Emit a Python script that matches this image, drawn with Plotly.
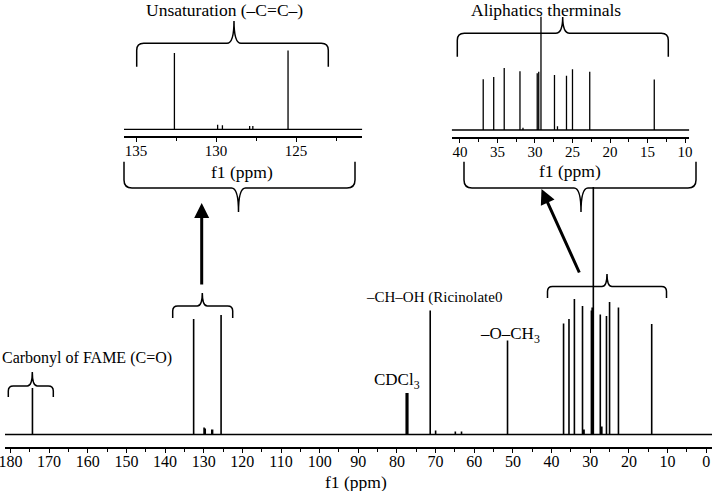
import plotly.graph_objects as go

# ---------------- data ----------------
peak_ppm = [174.3, 132.6, 129.9, 129.6, 127.9, 127.7, 125.5,
            77.6, 77.4, 77.2, 71.4, 70.0, 64.9, 63.3, 51.4,
            36.9, 35.5, 34.1, 32.0, 31.6, 29.7, 29.5, 29.2,
            27.4, 27.0, 25.8, 25.0, 22.7, 14.1]
peak_int = [46.5, 115.5, 7, 6, 5, 5, 119.5,
            41.5, 41.5, 41.5, 124, 4, 3, 3, 94,
            111, 115.5, 135.5, 128.5, 5, 124, 127, 247.5,
            120, 8, 118.5, 132.5, 127, 110.5]

main_ticks = list(range(0, 181, 10))
inset1_ticks = [135, 130, 125]
inset2_ticks = [40, 35, 30, 25, 20, 15, 10]

labels_text = {
    "unsat": "Unsaturation (–C=C–)",
    "aliph": "Aliphatics therminals",
    "carbonyl": "Carbonyl of FAME (C=O)",
    "choh": "–CH–OH (Ricinolate0",
    "cdcl3": "CDCl<sub>3</sub>",
    "och3": "–O–CH<sub>3</sub>",
}
axis_title = "f1 (ppm)"

# ---------------- layout geometry ----------------
W, H = 716, 491
ML, MR, MT, MB = 5, 4, 0, 44
PW, PH = W - ML - MR, H - MT - MB
FONT = "Liberation Serif, Times New Roman, serif"


def px(x):
    return (x - ML) / PW


def py(y):
    return (H - MB - y) / PH


def spectrum(lo, hi):
    pairs = sorted([(p, h) for p, h in zip(peak_ppm, peak_int) if lo < p < hi],
                   reverse=True)
    xs, ys = [hi], [0]
    for p, h in pairs:
        xs += [p, p, p]
        ys += [0, h, 0]
    xs.append(lo)
    ys.append(0)
    return xs, ys


fig = go.Figure()

mx, my = spectrum(-1.5, 181.4)
fig.add_trace(go.Scatter(x=mx, y=my, mode="lines", line=dict(color="black", width=1.6),
                         xaxis="x", yaxis="y", hoverinfo="skip"))
i1_range = [135.75, 120.86]
ax1, ay1 = spectrum(i1_range[1], i1_range[0])
fig.add_trace(go.Scatter(x=ax1, y=ay1, mode="lines", line=dict(color="black", width=1.3),
                         xaxis="x2", yaxis="y2", hoverinfo="skip"))
i2_range = [41.1, 9.43]
ax2, ay2 = spectrum(i2_range[1], i2_range[0])
fig.add_trace(go.Scatter(x=ax2, y=ay2, mode="lines", line=dict(color="black", width=1.3),
                         xaxis="x3", yaxis="y3", hoverinfo="skip"))


def inset_y(bottom_px, top_px, base_px, scale):
    dom = [py(bottom_px), py(top_px)]
    lo = -(bottom_px - base_px) / scale
    hi = lo + (bottom_px - top_px) / scale
    return dom, [lo, hi]


d2, r2 = inset_y(135.7, 20, 129.3, 0.66)
d3, r3 = inset_y(136.7, 14, 130.0, 0.458)

tickfont_main = dict(family=FONT, size=16, color="black")
tickfont_inset = dict(family=FONT, size=15, color="black")

common_x = dict(showline=True, linecolor="black", showgrid=False, zeroline=False,
                ticks="outside", tickcolor="black", ticklabeloverflow="allow")

fig.update_layout(
    width=W, height=H, margin=dict(l=ML, r=MR, t=MT, b=MB, autoexpand=False),
    paper_bgcolor="white", plot_bgcolor="rgba(0,0,0,0)", showlegend=False,
    xaxis=dict(**common_x, range=[181.4, -1.5], domain=[0, 1], anchor="y",
               linewidth=2, ticklen=4, tickwidth=1.2, automargin=False,
               ticklabelstandoff=-5,
               tickvals=main_ticks, ticktext=[str(t) for t in main_ticks],
               tickfont=tickfont_main,
               minor=dict(dtick=5, ticklen=3, tickcolor="black", ticks="outside")),
    yaxis=dict(range=[-12.5, 434.5], domain=[0, 1], visible=False),
    xaxis2=dict(**common_x, range=i1_range, domain=[px(124), px(362.3)], anchor="y2",
                linewidth=1.6, ticklen=4, tickwidth=1.2, ticklabelstandoff=-4,
                tickvals=inset1_ticks, ticktext=[str(t) for t in inset1_ticks],
                tickfont=tickfont_inset,
                minor=dict(dtick=2.5, ticklen=3, tickcolor="black", ticks="outside")),
    yaxis2=dict(range=r2, domain=d2, visible=False, anchor="x2"),
    xaxis3=dict(**common_x, range=i2_range, domain=[px(451.7), px(689.3)], anchor="y3",
                linewidth=1.6, ticklen=4, tickwidth=1.2, ticklabelstandoff=-4,
                tickvals=inset2_ticks, ticktext=[str(t) for t in inset2_ticks],
                tickfont=tickfont_inset,
                minor=dict(dtick=2.5, ticklen=3, tickcolor="black", ticks="outside")),
    yaxis3=dict(range=r3, domain=d3, visible=False, anchor="x3"),
)


def brace(x1, x2, xc, yh, yend, ytip, r=6, rc=6):
    s = 1 if yend > yh else -1
    pts = [
        ("M", [(x1, yend)]),
        ("L", [(x1, yh + s * r)]),
        ("Q", [(x1, yh), (x1 + r, yh)]),
        ("L", [(xc - rc, yh)]),
        ("Q", [(xc, yh), (xc, ytip)]),
        ("Q", [(xc, yh), (xc + rc, yh)]),
        ("L", [(x2 - r, yh)]),
        ("Q", [(x2, yh), (x2, yh + s * r)]),
        ("L", [(x2, yend)]),
    ]
    path = " ".join(cmd + " " + " ".join(f"{px(a):.5f},{py(b):.5f}" for a, b in p)
                    for cmd, p in pts)
    fig.add_shape(type="path", path=path, xref="paper", yref="paper",
                  line=dict(color="black", width=1.5))


brace(136.7, 328.3, 234, 43.3, 66.7, 21, r=7, rc=7)
brace(124, 355, 238.5, 188, 161.7, 212, r=8, rc=7)
brace(457.3, 668.3, 562.7, 33.3, 56.7, 17, r=7, rc=7)
brace(464, 696, 581, 188, 161.7, 212, r=8, rc=7)
brace(172.7, 232.7, 202.3, 306, 318, 293, r=5, rc=5)
brace(547.5, 666.5, 607, 286.5, 298, 274, r=5, rc=5)
brace(8.3, 53.3, 32.3, 386, 397, 372, r=5, rc=5)


def text(t, x, y, size=16):
    fig.add_annotation(text=t, x=px(x), y=py(y), xref="paper", yref="paper",
                       showarrow=False, xanchor="center", yanchor="middle",
                       font=dict(family=FONT, size=size, color="black"))


text(labels_text["unsat"], 225, 10, 17.5)
text(labels_text["aliph"], 546, 10, 17.5)
text(labels_text["carbonyl"], 87, 358, 16)
text(labels_text["choh"], 434, 297, 15)
text(labels_text["cdcl3"], 397, 381, 17)
text(labels_text["och3"], 510, 335, 17)
text(axis_title, 356, 482, 17.5)
text(axis_title, 242, 172, 17.5)
text(axis_title, 570, 171, 17.5)


def arrow(tipx, tipy, tailx, taily):
    fig.add_annotation(text="", x=px(tipx), y=py(tipy), xref="paper", yref="paper",
                       ax=tailx - tipx, ay=taily - tipy, showarrow=True,
                       arrowhead=2, arrowsize=1.0, arrowwidth=3, arrowcolor="black",
                       standoff=0)


arrow(201.7, 203, 201.7, 286)
arrow(541.5, 189, 580, 274)

fig.write_html("out.html", config={"displayModeBar": False},
               post_script="document.body.style.margin='0';document.body.style.padding='0';")
